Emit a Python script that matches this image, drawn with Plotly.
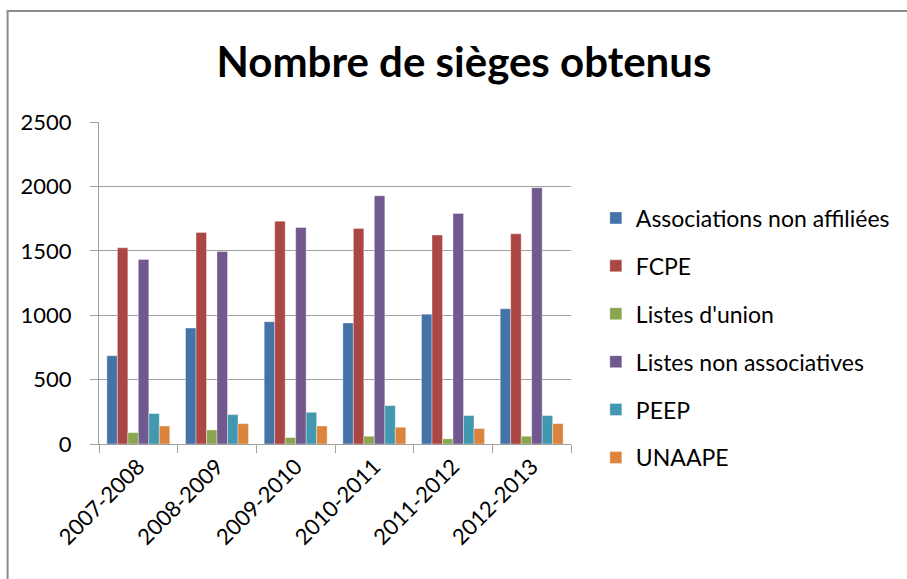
import plotly.graph_objects as go

categories = ["2007-2008", "2008-2009", "2009-2010", "2010-2011", "2011-2012", "2012-2013"]
series_names = ["Associations non affiliées", "FCPE", "Listes d'union",
                "Listes non associatives", "PEEP", "UNAAPE"]
assoc = [685, 900, 950, 940, 1008, 1050]
fcpe = [1523, 1643, 1730, 1673, 1622, 1632]
union = [88, 109, 50, 60, 40, 60]
non_assoc = [1433, 1495, 1681, 1927, 1790, 1990]
peep = [236, 228, 246, 298, 221, 221]
unaape = [140, 158, 140, 130, 120, 158]
values = [assoc, fcpe, union, non_assoc, peep, unaape]
colors = ["#4572A7", "#AA4643", "#89A54E", "#71588F", "#4198AF", "#DB843D"]
y_ticks = [0, 500, 1000, 1500, 2000, 2500]

FONT = "Lato"

fig = go.Figure()
for i, (name, vals, col) in enumerate(zip(series_names, values, colors)):
    fig.add_trace(go.Bar(
        x=categories, y=vals, name=name, legendgroup=f"g{i}",
        marker=dict(color=col, line=dict(color="rgba(255,255,255,0.6)", width=0.6)),
    ))

fig.update_layout(
    width=907, height=579,
    margin=dict(l=99, r=333, t=122, b=135),
    paper_bgcolor="white", plot_bgcolor="white",
    barmode="group", bargap=0.2, bargroupgap=0,
    font=dict(family=FONT, size=22, color="black"),
    title=dict(text="<b>Nombre de sièges obtenus</b>", x=464/907, xanchor="center",
               y=1 - 62/579, yanchor="middle",
               font=dict(family=FONT, size=42, color="black")),
    showlegend=True,
    legend=dict(x=(599 - 99) / 475, xanchor="left", y=(444 - 338) / 322, yanchor="middle",
                traceorder="grouped", tracegroupgap=15,
                font=dict(family=FONT, size=23, color="black"),
                itemwidth=30),
    xaxis=dict(showline=True, linecolor="#A0A0A0", linewidth=1,
               ticks="outside", tickson="boundaries", ticklen=8, tickcolor="#A0A0A0",
               tickangle=-45, tickfont=dict(family=FONT, size=22, color="black"),
               showgrid=False),
    yaxis=dict(range=[0, 2500], tickvals=y_ticks, showline=True, linecolor="#A0A0A0",
               linewidth=1, ticks="outside", ticklen=8, tickcolor="#A0A0A0",
               gridcolor="#A0A0A0", gridwidth=1, zeroline=False,
               tickfont=dict(family=FONT, size=22, color="black"), ticklabelstandoff=14),
    shapes=[dict(type="rect", xref="paper", yref="paper",
                 x0=(7 - 99) / 475, x1=(930 - 99) / 475,
                 y0=(444 - 600) / 322, y1=(444 - 11) / 322,
                 line=dict(color="#8C8C8C", width=2), fillcolor="rgba(0,0,0,0)")],
)

fig.write_html("out.html", config={"displayModeBar": False},
               post_script="document.body.style.margin='0';")
